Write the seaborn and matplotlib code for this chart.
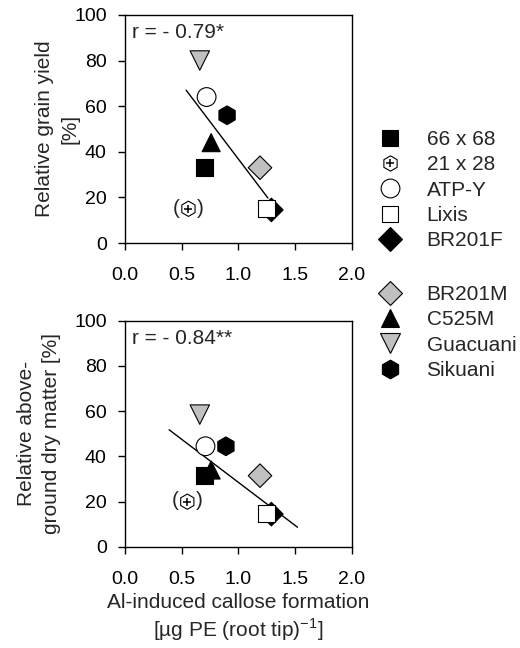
import numpy as np
import pandas as pd
import matplotlib
matplotlib.use("Agg")
import matplotlib.pyplot as plt
from matplotlib.lines import Line2D
from matplotlib.legend_handler import HandlerTuple
import seaborn as sns

# ---- data ----
cultivars = ["Guacuani", "ATP-Y", "Sikuani", "66 x 68", "C525M", "BR201M",
             "21 x 28", "BR201F", "Lixis"]
callose = [0.66, 0.72, 0.90, 0.70, 0.76, 1.19, 0.56, 1.29, 1.25]
grain_yield = [80, 64, 56, 33, 44, 33, 15, 14.5, 15]
callose_dm = [0.66, 0.71, 0.89, 0.70, 0.76, 1.19, 0.55, 1.29, 1.25]
dry_matter = [58.5, 44.5, 44.5, 31.5, 34, 31.5, 20, 14.5, 14.7]

# fitted lines as drawn
fit_x_yield = [0.54, 1.26]
fit_y_yield = [67, 19.7]
fit_x_dm = [0.39, 1.52]
fit_y_dm = [51.8, 8.7]

r_text = ["r = - 0.79*", "r = - 0.84**"]

legend_a = ["66 x 68", "21 x 28", "ATP-Y", "Lixis", "BR201F"]
legend_b = ["BR201M", "C525M", "Guacuani", "Sikuani"]

# ---- styles ----
GRAY = "#c0c0c0"
face = {"66 x 68": "black", "21 x 28": "white", "ATP-Y": "white", "Lixis": "white",
        "BR201F": "black", "BR201M": GRAY, "C525M": "black", "Guacuani": GRAY,
        "Sikuani": "black"}
mark = {"66 x 68": "s", "21 x 28": "h", "ATP-Y": "o", "Lixis": "s",
        "BR201F": "D", "BR201M": "D", "C525M": "^", "Guacuani": "v",
        "Sikuani": "h"}
msize = {"66 x 68": 12, "21 x 28": 11, "ATP-Y": 13.5, "Lixis": 12,
         "BR201F": 12, "BR201M": 12, "C525M": 13, "Guacuani": 14,
         "Sikuani": 13.5}

FS = 15
TFS = 14

sns.set_theme(style="ticks")
plt.rcParams["font.family"] = ["Liberation Sans", "DejaVu Sans"]
plt.rcParams["mathtext.fontset"] = "custom"
plt.rcParams["mathtext.rm"] = "Liberation Sans"
plt.rcParams["font.size"] = FS

fig = plt.figure(figsize=(5.2, 6.48), dpi=100)
ax1 = fig.add_axes([0.240, 0.625, 0.437, 0.352])
ax2 = fig.add_axes([0.240, 0.156, 0.437, 0.349])

panels = [
    (ax1, callose, grain_yield, fit_x_yield, fit_y_yield, r_text[0],
     "Relative grain yield\n[%]", -0.20),
    (ax2, callose_dm, dry_matter, fit_x_dm, fit_y_dm, r_text[1],
     "Relative above-\nground dry matter [%]", -0.28),
]

for ax, xs, ys, fx, fy, rt, ylab, lx in panels:
    df = pd.DataFrame({"cultivar": cultivars, "x": xs, "y": ys})
    ax.plot(fx, fy, color="black", lw=1, zorder=2)
    sns.scatterplot(data=df, x="x", y="y", hue="cultivar", style="cultivar",
                    size="cultivar", palette=face, markers=mark,
                    sizes={k: v ** 2 for k, v in msize.items()},
                    edgecolor="black", linewidth=0.8, legend=False, ax=ax,
                    zorder=3)
    sub = df[df["cultivar"] == "21 x 28"]
    ax.scatter(sub["x"], sub["y"], marker="+", s=36, color="black",
               linewidths=1.1, zorder=4)
    for _, row in sub.iterrows():
        ax.annotate("(", (row["x"], row["y"]), xytext=(-8.5, 0.5),
                    textcoords="offset points", ha="center", va="center",
                    fontsize=FS)
        ax.annotate(")", (row["x"], row["y"]), xytext=(8.5, 0.5),
                    textcoords="offset points", ha="center", va="center",
                    fontsize=FS)
    ax.text(0.03, 0.965, rt, transform=ax.transAxes, ha="left", va="top",
            fontsize=FS)
    ax.set_xlim(0, 2)
    ax.set_ylim(0, 100)
    ax.set_xticks([0.0, 0.5, 1.0, 1.5, 2.0])
    ax.set_xticklabels(["0.0", "0.5", "1.0", "1.5", "2.0"])
    ax.set_yticks([0, 20, 40, 60, 80, 100])
    ax.tick_params(direction="out", length=5, width=1, labelsize=TFS,
                   colors="black", pad=8)
    ax.tick_params(axis="x", pad=12)
    for s in ax.spines.values():
        s.set_linewidth(1)
        s.set_color("black")
    ax.set_xlabel("")
    ax.set_ylabel(ylab, fontsize=FS, linespacing=1.4)
    ax.yaxis.set_label_coords(lx, 0.5)

ax2.set_xlabel("Al-induced callose formation\n"
               "[µg PE (root tip)$^{\\mathregular{-1}}$]",
               fontsize=FS, linespacing=1.2, labelpad=4)


def handle(name):
    main = Line2D([], [], ls="", marker=mark[name], markersize=msize[name],
                  markerfacecolor=face[name], markeredgecolor="black",
                  markeredgewidth=0.8)
    if name == "21 x 28":
        plus = Line2D([], [], ls="", marker="+", markersize=6,
                      color="black", markeredgewidth=1.1)
        return (main, plus)
    return main


for names, top in [(legend_a, 0.828), (legend_b, 0.589)]:
    leg = fig.legend([handle(n) for n in names], names, loc="upper left",
                     bbox_to_anchor=(0.684, top), frameon=False, fontsize=FS,
                     labelspacing=0.3, handletextpad=1.0, handlelength=1.5,
                     handler_map={tuple: HandlerTuple(ndivide=1)})

fig.savefig("out.png", dpi=100, facecolor="white")
